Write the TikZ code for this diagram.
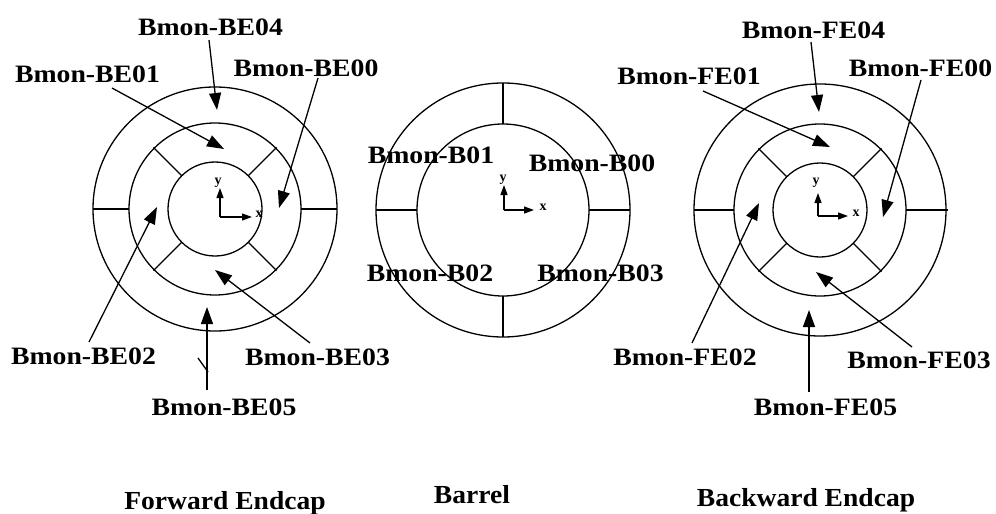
\documentclass[tikz,border=0pt]{standalone}
\usepackage{fontspec}
\usepackage{graphicx}
\setmainfont{Liberation Serif}
\usetikzlibrary{arrows.meta}
\tikzset{
  lbl/.style={font=\fontsize{25}{25}\selectfont\bfseries, inner sep=0pt},
  ttl/.style={font=\fontsize{26}{26}\selectfont\bfseries, inner sep=0pt, anchor=base},
  ptr/.style={line width=1.3pt, -{Triangle[length=17pt,width=12pt]}},
  ax/.style={line width=1.2pt, -{Triangle[length=10pt,width=7pt]}},
  ring/.style={line width=1.3pt},
  axl/.style={font=\fontsize{14}{14}\selectfont\bfseries, inner sep=0pt},
}
\newcommand\widetxt[1]{\scalebox{1.11}[1]{#1}}
\newcommand\widettl[1]{\scalebox{1.06}[1]{#1}}
\begin{document}
\begin{tikzpicture}[x=1pt,y=-1pt]
\useasboundingbox (0,0) rectangle (996,514);

% ---------- Forward endcap (left) ----------
\begin{scope}[shift={(215,209)}]
  \draw[ring] (0,0) circle[radius=122pt];
  \draw[ring] (0,0) circle[radius=86pt];
  \draw[ring] (0,0) circle[radius=47pt];
  \draw[ring] (180:86) -- (180:122);
  \draw[ring] (0:86) -- (0:122);
  \foreach \a in {45,135,225,315} \draw[ring] (\a:47) -- (\a:87);
\end{scope}
\coordinate (LO) at (220,217);
\coordinate (LY) at (220,188);
\coordinate (LX) at (252,217);
\draw[ax] (LO) -- (LY);
\draw[ax] (LO) -- (LX);
\node[axl] (Ly) at (218,183) {y};
\node[axl] (Lx) at (259,214) {x};

\node[lbl] (BE04) at (210.5,27) {\widetxt{Bmon-BE04}};
\node[lbl] (BE01) at (87.5,74) {\widetxt{Bmon-BE01}};
\node[lbl] (BE00) at (306,68) {\widetxt{Bmon-BE00}};
\node[lbl] (BE02) at (83.5,356) {\widetxt{Bmon-BE02}};
\node[lbl] (BE03) at (317.5,357) {\widetxt{Bmon-BE03}};
\node[lbl] (BE05) at (224,407) {\widetxt{Bmon-BE05}};

\coordinate (sBE04) at (209,40);   \coordinate (tBE04) at (217,110);
\coordinate (sBE01) at (112,88);   \coordinate (tBE01) at (224,149);
\coordinate (sBE00) at (318,78);   \coordinate (tBE00) at (279,208);
\coordinate (sBE02) at (89,342);   \coordinate (tBE02) at (157,207);
\coordinate (sBE03) at (310,343);  \coordinate (tBE03) at (215,270);
\coordinate (sBE05) at (207,390);  \coordinate (tBE05) at (207,307);
\draw[ptr] (sBE04) -- (tBE04);
\draw[ptr] (sBE01) -- (tBE01);
\draw[ptr] (sBE00) -- (tBE00);
\draw[ptr] (sBE02) -- (tBE02);
\draw[ptr] (sBE03) -- (tBE03);
\draw[ptr] (sBE05) -- (tBE05);
\coordinate (k1) at (198,358); \coordinate (k2) at (208,372);
\draw[ring] (k1) -- (k2);

% ---------- Barrel (middle) ----------
\begin{scope}[shift={(503,210)}]
  \draw[ring] (0,0) circle[radius=127pt];
  \draw[ring] (0,0) circle[radius=86pt];
  \foreach \a in {0,90,180,270} \draw[ring] (\a:86) -- (\a:127);
\end{scope}
\coordinate (MO) at (504,210);
\coordinate (MY) at (504,185);
\coordinate (MX) at (534,210);
\draw[ax] (MO) -- (MY);
\draw[ax] (MO) -- (MX);
\node[axl] (My) at (503,180) {y};
\node[axl] (Mx) at (543,207) {x};

\node[lbl] (B01) at (431,155) {\widetxt{Bmon-B01}};
\node[lbl] (B00) at (592,163) {\widetxt{Bmon-B00}};
\node[lbl] (B02) at (430,273) {\widetxt{Bmon-B02}};
\node[lbl] (B03) at (600.5,273) {\widetxt{Bmon-B03}};

% ---------- Backward endcap (right) ----------
\begin{scope}[shift={(820,210)}]
  \draw[ring] (0,0) circle[radius=126pt];
  \draw[ring] (0,0) circle[radius=86pt];
  \draw[ring] (0,0) circle[radius=47pt];
  \draw[ring] (180:86) -- (180:126);
  \draw[ring] (0:86) -- (0:128);
  \foreach \a in {45,135,225,315} \draw[ring] (\a:47) -- (\a:87);
\end{scope}
\coordinate (RO) at (818,216);
\coordinate (RY) at (818,193);
\coordinate (RX) at (848,216);
\draw[ax] (RO) -- (RY);
\draw[ax] (RO) -- (RX);
\node[axl] (Ry) at (816,183) {y};
\node[axl] (Rx) at (856,213) {x};

\node[lbl] (FE04) at (813.5,30) {\widetxt{Bmon-FE04}};
\node[lbl] (FE01) at (689,76) {\widetxt{Bmon-FE01}};
\node[lbl] (FE00) at (920.5,68) {\widetxt{Bmon-FE00}};
\node[lbl] (FE02) at (685,357) {\widetxt{Bmon-FE02}};
\node[lbl] (FE03) at (919,360) {\widetxt{Bmon-FE03}};
\node[lbl] (FE05) at (825.5,407) {\widetxt{Bmon-FE05}};

\coordinate (sFE04) at (811,42);   \coordinate (tFE04) at (819,112);
\coordinate (sFE01) at (703,91);   \coordinate (tFE01) at (830,147);
\coordinate (sFE00) at (921,80);   \coordinate (tFE00) at (883,217);
\coordinate (sFE02) at (692,343);  \coordinate (tFE02) at (759,203);
\coordinate (sFE03) at (912,347);  \coordinate (tFE03) at (816,272);
\coordinate (sFE05) at (809,392);  \coordinate (tFE05) at (809,310);
\draw[ptr] (sFE04) -- (tFE04);
\draw[ptr] (sFE01) -- (tFE01);
\draw[ptr] (sFE00) -- (tFE00);
\draw[ptr] (sFE02) -- (tFE02);
\draw[ptr] (sFE03) -- (tFE03);
\draw[ptr] (sFE05) -- (tFE05);

% ---------- Titles ----------
\node[ttl] (T1) at (225,509) {\widettl{Forward Endcap}};
\node[ttl] (T2) at (472,503) {\widettl{Barrel}};
\node[ttl] (T3) at (806,506) {\widettl{Backward Endcap}};
\end{tikzpicture}
\end{document}
